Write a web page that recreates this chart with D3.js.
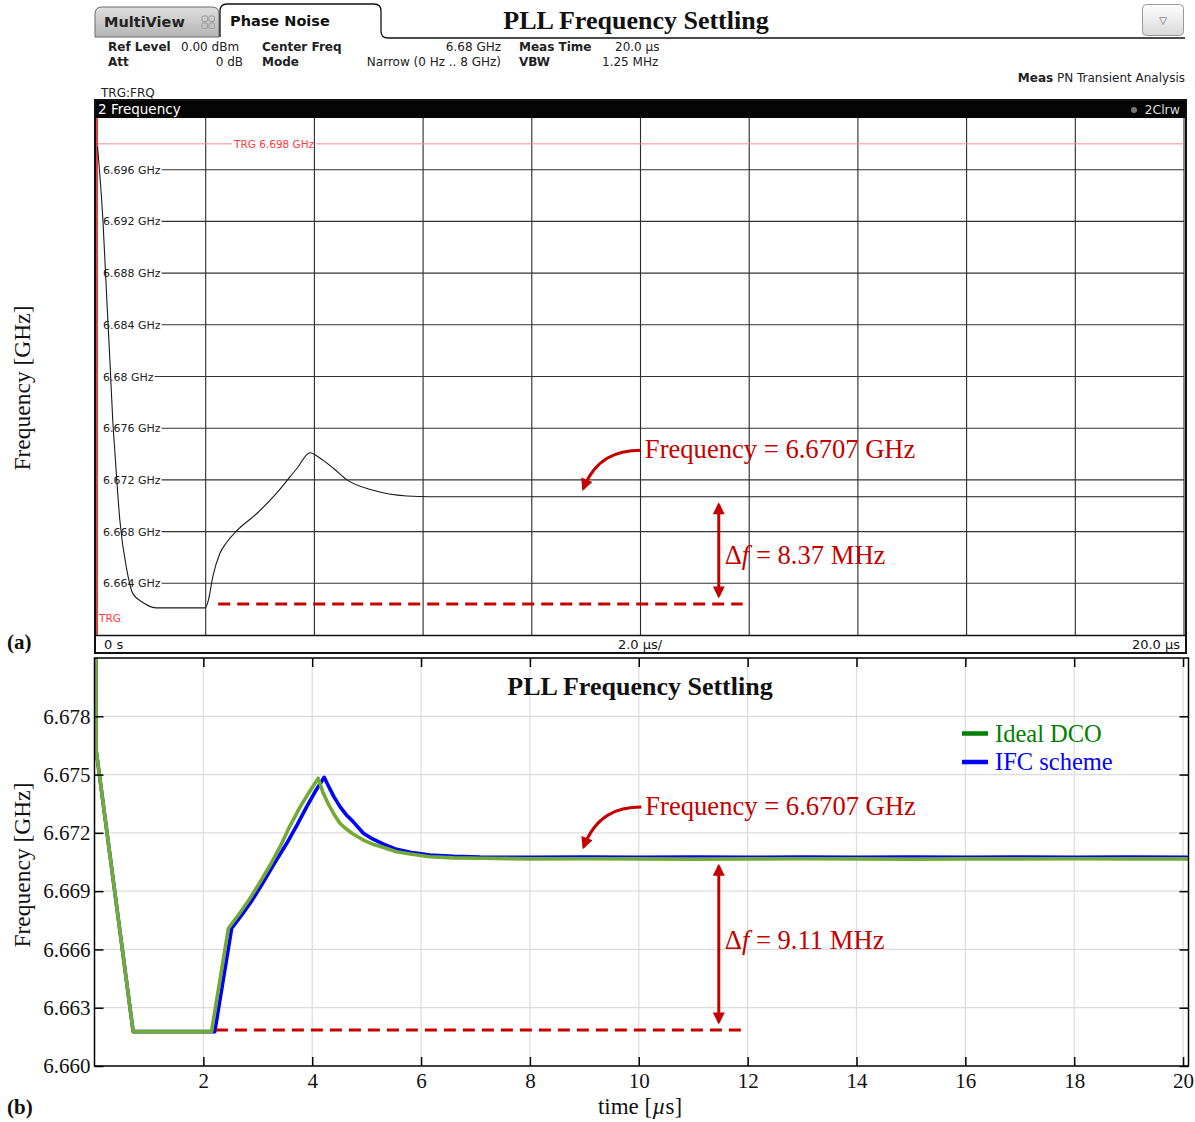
<!DOCTYPE html>
<html><head><meta charset="utf-8">
<script src="https://cdn.jsdelivr.net/npm/d3@7"></script>
<style>
body{margin:0;background:#fff;}
svg{display:block;}
</style></head><body>
<svg id="c" width="1195" height="1122"></svg>
<script>
// ---------------- DATA ----------------
// Panel (a): measured analyzer trace (time in µs, frequency in GHz)
const timeA = [0.01,0.11,0.18,0.24,0.29,0.33,0.42,0.55,0.66,0.85,1.10,1.99,2.05,2.13,2.26,2.39,2.58,2.94,3.31,3.68,3.92,4.10,4.35,4.60,5.08,5.70,6.13,8,10,12,14,16,18,20];
const freqA = [6.6978,6.6920,6.6860,6.6810,6.6766,6.6741,6.6689,6.6650,6.6632,6.6625,6.6621,6.6621,6.6627,6.6645,6.6663,6.6672,6.6681,6.6694,6.6710,6.6729,6.6741,6.6737,6.6729,6.6720,6.6712,6.67076,6.6707,6.6707,6.6707,6.6707,6.6707,6.6707,6.6707,6.6707];
const yTicksA = [6.664,6.668,6.672,6.676,6.68,6.684,6.688,6.692,6.696];
const yLabelsA = ["6.664 GHz","6.668 GHz","6.672 GHz","6.676 GHz","6.68 GHz","6.684 GHz","6.688 GHz","6.692 GHz","6.696 GHz"];
const xGridA = [2,4,6,8,10,12,14,16,18,20];
const trgLevel = 6.698;

// Panel (b): simulation
const timeIdeal = [0,0.02,0.03,0.71,2.15,2.46,2.65,2.85,3.05,3.25,3.41,3.59,3.78,3.95,4.11,4.20,4.30,4.40,4.51,4.62,4.75,4.94,5.10,5.30,5.55,5.80,6.16,6.60,7.08,8,9,10,11,12,13,14,15,16,17,18,19,20.1];
const freqIdeal = [6.6900,6.6900,6.67626,6.66177,6.66177,6.66709,6.66780,6.66860,6.66950,6.67045,6.67129,6.67235,6.67335,6.67412,6.67481,6.67406,6.67346,6.67296,6.67249,6.67221,6.67194,6.67163,6.67143,6.67126,6.67103,6.67091,6.67077,6.67071,6.67069,6.67066,6.67067,6.67066,6.67065,6.67066,6.67067,6.67066,6.67065,6.67066,6.67066,6.67067,6.67066,6.67066];
const timeIFC = [0,0.02,0.03,0.71,2.21,2.52,2.70,2.90,3.10,3.30,3.53,3.72,3.90,4.05,4.22,4.30,4.40,4.51,4.62,4.75,4.94,5.10,5.30,5.55,5.80,6.16,6.60,7.08,8,9,10,11,12,13,14,15,16,17,18,19,20.1];
const freqIFC = [6.6900,6.6900,6.67626,6.66177,6.66177,6.66709,6.66775,6.66855,6.66945,6.67040,6.67145,6.67240,6.67335,6.67410,6.67486,6.67440,6.67385,6.67335,6.67295,6.67258,6.67198,6.67170,6.67143,6.67115,6.67100,6.67086,6.67079,6.67075,6.67074,6.67075,6.67074,6.67075,6.67074,6.67075,6.67074,6.67075,6.67074,6.67075,6.67074,6.67075,6.67074];
const yTicksB = [6.660,6.663,6.666,6.669,6.672,6.675,6.678];
const xTicksB = [2,4,6,8,10,12,14,16,18,20];
const seriesNames = ["Ideal DCO","IFC scheme"];

// Annotation values
const settledFreq = 6.6707;
const minFreqA = 6.6624, minFreqB = 6.66185;
const deltaTextA = "8.37 MHz", deltaTextB = "9.11 MHz";
const freqText = "Frequency = 6.6707 GHz";

// ---------------- DRAW ----------------
const svg = d3.select('#c');
const RED = "#c40000";
const SERIF = "'Liberation Serif','Times New Roman',serif";
const SANS = "'DejaVu Sans',sans-serif";

const defs = svg.append('defs');
defs.append('marker').attr('id','ah').attr('viewBox','0 0 10 10')
  .attr('refX',8).attr('refY',5).attr('markerWidth',17).attr('markerHeight',12)
  .attr('markerUnits','userSpaceOnUse').attr('orient','auto-start-reverse')
  .append('path').attr('d','M0,0 L10,5 L0,10 z').attr('fill',RED);
const gMV = defs.append('linearGradient').attr('id','gmv').attr('x1',0).attr('x2',0).attr('y1',0).attr('y2',1);
gMV.append('stop').attr('offset','0').attr('stop-color','#dedede');
gMV.append('stop').attr('offset','1').attr('stop-color','#b5b5b5');
const gBtn = defs.append('linearGradient').attr('id','gbtn').attr('x1',0).attr('x2',0).attr('y1',0).attr('y2',1);
gBtn.append('stop').attr('offset','0').attr('stop-color','#ffffff');
gBtn.append('stop').attr('offset','1').attr('stop-color','#d8d8d8');

// ===== Panel (a) header =====
svg.append('path').attr('d','M95,37 L95,14 Q95,7 102,7 L212,7 Q219,7 219,14 L219,37 Z')
  .attr('fill','url(#gmv)').attr('stroke','#6a6a6a').attr('stroke-width',1);
svg.append('text').attr('x',104).attr('y',27).attr('font-family',SANS).attr('font-weight','bold')
  .attr('font-size',14.5).attr('fill','#222').text('MultiView');
[[202,16],[209,16],[202,23],[209,23]].forEach(p=>{
  svg.append('rect').attr('x',p[0]).attr('y',p[1]).attr('width',5.5).attr('height',5.5).attr('rx',1.5)
    .attr('fill','none').attr('stroke','#9a9a9a').attr('stroke-width',1);
});
svg.append('path').attr('d','M220,37 L220,11 Q220,4 227,4 L374,4 Q381,4 381,11 L381,31 Q381,38 388,38 L1185,38')
  .attr('fill','#fff').attr('stroke','#111').attr('stroke-width',1.3);
svg.append('text').attr('x',230).attr('y',26).attr('font-family',SANS).attr('font-weight','bold')
  .attr('font-size',14.5).attr('fill','#111').text('Phase Noise');
svg.append('text').attr('x',636).attr('y',29).attr('text-anchor','middle').attr('font-family',SERIF)
  .attr('font-weight','bold').attr('font-size',26).attr('fill','#111').text('PLL Frequency Settling');
svg.append('rect').attr('x',1142.5).attr('y',4.5).attr('width',41).attr('height',31).attr('rx',4)
  .attr('fill','url(#gbtn)').attr('stroke','#999');
svg.append('text').attr('x',1163).attr('y',24).attr('text-anchor','middle').attr('font-family',SANS)
  .attr('font-size',10).attr('fill','#556').text('▽');

const info = [
  {x:108,y:51,t:'Ref Level',b:true},{x:181,y:51,t:'0.00 dBm'},{x:262,y:51,t:'Center Freq',b:true},
  {x:501,y:51,t:'6.68 GHz',a:'end'},{x:519,y:51,t:'Meas Time',b:true},{x:615,y:51,t:'20.0 µs'},
  {x:108,y:66,t:'Att',b:true},{x:243,y:66,t:'0 dB',a:'end'},{x:262,y:66,t:'Mode',b:true},
  {x:501,y:66,t:'Narrow (0 Hz .. 8 GHz)',a:'end'},{x:519,y:66,t:'VBW',b:true},{x:602,y:66,t:'1.25 MHz'},
  {x:101,y:97,t:'TRG:FRQ'}
];
info.forEach(d=>{
  svg.append('text').attr('x',d.x).attr('y',d.y).attr('text-anchor',d.a||'start').attr('font-family',SANS)
    .attr('font-weight',d.b?'bold':'normal').attr('font-size',12).attr('fill','#222').text(d.t);
});
const measT = svg.append('text').attr('x',1185).attr('y',82).attr('text-anchor','end')
  .attr('font-family',SANS).attr('font-size',12).attr('fill','#222');
measT.append('tspan').attr('font-weight','bold').text('Meas');
measT.append('tspan').text(' PN Transient Analysis');

// ===== Panel (a) plot =====
const xA = d3.scaleLinear().domain([0,20]).range([97,1184]);
const yA = d3.scaleLinear().domain([6.66,6.70]).range([635,118]);
const gA = svg.append('g');
gA.append('rect').attr('x',95).attr('y',100).attr('width',1091).attr('height',553).attr('fill','#fff')
  .attr('stroke','#111').attr('stroke-width',2);
gA.append('rect').attr('x',96).attr('y',101).attr('width',1089).attr('height',17).attr('fill','#050505');
gA.append('text').attr('x',98).attr('y',114).attr('font-family',SANS).attr('font-size',13.5).attr('fill','#fff').text('2 Frequency');
gA.append('text').attr('x',1180).attr('y',114).attr('text-anchor','end').attr('font-family',SANS)
  .attr('font-size',12.5).attr('fill','#d8d8d8').text('2Clrw');
gA.append('circle').attr('cx',1134).attr('cy',110).attr('r',3).attr('fill','#777');

const gridA = gA.append('g');
const labA = gA.append('g');
gridA.selectAll('.vg').data(xGridA).enter().append('line')
  .attr('x1',d=>xA(d)).attr('x2',d=>xA(d)).attr('y1',118).attr('y2',635)
  .attr('stroke','#2a2a2a').attr('stroke-width',1.1);
yTicksA.forEach((v,i)=>{
  const t = labA.append('text').attr('x',103).attr('y',yA(v)+4).attr('font-family',SANS)
    .attr('font-size',11).attr('fill','#222').text(yLabelsA[i]);
  const w = t.node().getComputedTextLength();
  gridA.append('line').attr('x1',103+w+1).attr('x2',xA(20)).attr('y1',yA(v)).attr('y2',yA(v))
    .attr('stroke','#333').attr('stroke-width',1.1);
});
{
  const y = yA(trgLevel);
  const lab = labA.append('text').attr('x',234).attr('y',y+4).attr('font-family',SANS).attr('font-size',10.5)
    .attr('fill','#ff3b3b').text('TRG '+trgLevel.toFixed(3)+' GHz');
  const w = lab.node().getComputedTextLength();
  gridA.append('line').attr('x1',xA(0)).attr('x2',232).attr('y1',y).attr('y2',y).attr('stroke','#ff8a8a').attr('stroke-width',1);
  gridA.append('line').attr('x1',234+w+2).attr('x2',xA(20)).attr('y1',y).attr('y2',y).attr('stroke','#ff8a8a').attr('stroke-width',1);
}
gA.append('line').attr('x1',97).attr('x2',97).attr('y1',118).attr('y2',635).attr('stroke','#d40000').attr('stroke-width',1.5);
gA.append('text').attr('x',99).attr('y',622).attr('font-family',SANS).attr('font-size',10.5).attr('fill','#ff3b3b').text('TRG');

const dataA = timeA.map((t,i)=>({t, f:freqA[i]}));
gA.append('path').datum(dataA)
  .attr('d', d3.line().x(d=>xA(d.t)).y(d=>yA(d.f)).curve(d3.curveMonotoneX))
  .attr('fill','none').attr('stroke','#1a1a1a').attr('stroke-width',1.1);

gA.append('line').attr('x1',96).attr('x2',1185).attr('y1',635.5).attr('y2',635.5).attr('stroke','#111').attr('stroke-width',1.5);
gA.append('text').attr('x',104).attr('y',649).attr('font-family',SANS).attr('font-size',13).attr('fill','#111').text('0 s');
gA.append('text').attr('x',640).attr('y',649).attr('text-anchor','middle').attr('font-family',SANS).attr('font-size',13).attr('fill','#111').text('2.0 µs/');
gA.append('text').attr('x',1180).attr('y',649).attr('text-anchor','end').attr('font-family',SANS).attr('font-size',13).attr('fill','#111').text('20.0 µs');

// annotations
function annotate(g, xs, ys, minF, deltaText, tText, tArrow, textOff, tipOff, deltaOff) {
  g.append('line').attr('x1',xs(2.23)).attr('x2',xs(11.88)).attr('y1',ys(minF)).attr('y2',ys(minF))
    .attr('stroke',RED).attr('stroke-width',3).attr('stroke-dasharray','12,7');
  g.append('line').attr('x1',xs(tArrow)).attr('x2',xs(tArrow)).attr('y1',ys(settledFreq)+8).attr('y2',ys(minF)-8)
    .attr('stroke',RED).attr('stroke-width',3).attr('marker-start','url(#ah)').attr('marker-end','url(#ah)');
  const base = ys(settledFreq) - textOff;
  const tx = xs(tText);
  g.append('text').attr('x',tx).attr('y',base).attr('font-family',SERIF).attr('font-size',26.6).attr('fill',RED).text(freqText);
  const x0 = tx-4, y0 = base-8;
  const x1 = xs(tText-1.17), y1 = ys(settledFreq) - tipOff;
  g.append('path').attr('d',`M${x0},${y0} C${x0-24},${y0} ${x1+14},${y0+8} ${x1+2},${y1}`)
    .attr('fill','none').attr('stroke',RED).attr('stroke-width',3).attr('marker-end','url(#ah)');
  const dt = g.append('text').attr('x',xs(tArrow)+6).attr('y',(ys(settledFreq)+ys(minF))/2+deltaOff)
    .attr('font-family',SERIF).attr('font-size',26.6).attr('fill',RED);
  dt.append('tspan').text('Δ');
  dt.append('tspan').attr('font-style','italic').text('f');
  dt.append('tspan').text(' = '+deltaText);
}
annotate(gA, xA, yA, minFreqA, deltaTextA, 10.08, 11.44, 38.5, 8, 14);

// ===== Panel (b) =====
const xB = d3.scaleLinear().domain([0,20.1]).range([94.5,1188.5]);
const yB = d3.scaleLinear().domain([6.660,6.681]).range([1066,658]);
const gB = svg.append('g');
gB.selectAll('.gx').data(xTicksB).enter().append('line')
  .attr('x1',d=>xB(d)).attr('x2',d=>xB(d)).attr('y1',658).attr('y2',1066).attr('stroke','#dcdcdc').attr('stroke-width',1.2);
gB.selectAll('.gy').data(yTicksB.slice(1)).enter().append('line')
  .attr('y1',d=>yB(d)).attr('y2',d=>yB(d)).attr('x1',94.5).attr('x2',1188.5).attr('stroke','#dcdcdc').attr('stroke-width',1.2);

defs.append('clipPath').attr('id','clipB').append('rect').attr('x',94.5).attr('y',658).attr('width',1094).attr('height',408);
const lineB = d3.line().x(d=>xB(d.t)).y(d=>yB(d.f));
const dataIFC = timeIFC.map((t,i)=>({t,f:freqIFC[i]}));
const dataIdeal = timeIdeal.map((t,i)=>({t,f:freqIdeal[i]}));
const gl = gB.append('g').attr('clip-path','url(#clipB)');
gl.append('path').datum(dataIFC).attr('d',lineB).attr('fill','none').attr('stroke','#0000ff').attr('stroke-width',3.6).attr('stroke-linejoin','round');
gl.append('path').datum(dataIdeal).attr('d',lineB).attr('fill','none').attr('stroke','#72ab34').attr('stroke-width',3.6).attr('stroke-linejoin','round');

function styleAxis(g){
  g.select('.domain').remove();
  g.selectAll('.tick line').attr('stroke','#000').attr('stroke-width',1.5);
  g.selectAll('.tick text').attr('font-family',SERIF).attr('font-size',21).attr('fill','#111');
}
gB.append('g').attr('transform','translate(0,1066)')
  .call(d3.axisBottom(xB).tickValues(xTicksB).tickFormat(d3.format('d')).tickSizeInner(-9).tickSizeOuter(0).tickPadding(7)).call(styleAxis);
gB.append('g').attr('transform','translate(0,658)')
  .call(d3.axisTop(xB).tickValues(xTicksB).tickFormat('').tickSizeInner(-9).tickSizeOuter(0)).call(styleAxis);
gB.append('g').attr('transform','translate(94.5,0)')
  .call(d3.axisLeft(yB).tickValues(yTicksB).tickFormat(d3.format('.3f')).tickSizeInner(-9).tickSizeOuter(0).tickPadding(4)).call(styleAxis);
gB.append('g').attr('transform','translate(1188.5,0)')
  .call(d3.axisRight(yB).tickValues(yTicksB).tickFormat('').tickSizeInner(-9).tickSizeOuter(0)).call(styleAxis);
gB.append('rect').attr('x',94.5).attr('y',658).attr('width',1094).attr('height',408).attr('fill','none')
  .attr('stroke','#000').attr('stroke-width',1.5);

gB.append('text').attr('x',640).attr('y',695).attr('text-anchor','middle').attr('font-family',SERIF)
  .attr('font-weight','bold').attr('font-size',26).attr('fill','#111').text('PLL Frequency Settling');

const legColors = ['#008000','#0000ff'];
seriesNames.forEach((n,i)=>{
  const y = 733.5 + i*28.5;
  gB.append('line').attr('x1',962).attr('x2',988).attr('y1',y).attr('y2',y).attr('stroke',legColors[i]).attr('stroke-width',4.5);
  gB.append('text').attr('x',995).attr('y',y+8).attr('font-family',SERIF).attr('font-size',24.5).attr('fill',legColors[i]).text(n);
});

annotate(gB, xB, yB, minFreqB, deltaTextB, 10.12, 11.47, 43, 11, 4.5);

[388, 865].forEach(cy=>{
  svg.append('text').attr('transform',`translate(30,${cy}) rotate(-90)`).attr('text-anchor','middle')
    .attr('font-family',SERIF).attr('font-size',23.5).attr('fill','#111').text('Frequency [GHz]');
});
const xt = svg.append('text').attr('x',640).attr('y',1114).attr('text-anchor','middle')
  .attr('font-family',SERIF).attr('font-size',23).attr('fill','#111');
xt.append('tspan').text('time [');
xt.append('tspan').attr('font-style','italic').text('µ');
xt.append('tspan').text('s]');
svg.append('text').attr('x',7).attr('y',649).attr('font-family',SERIF).attr('font-weight','bold').attr('font-size',21).attr('fill','#111').text('(a)');
svg.append('text').attr('x',7).attr('y',1114).attr('font-family',SERIF).attr('font-weight','bold').attr('font-size',21).attr('fill','#111').text('(b)');
</script>
</body></html>
